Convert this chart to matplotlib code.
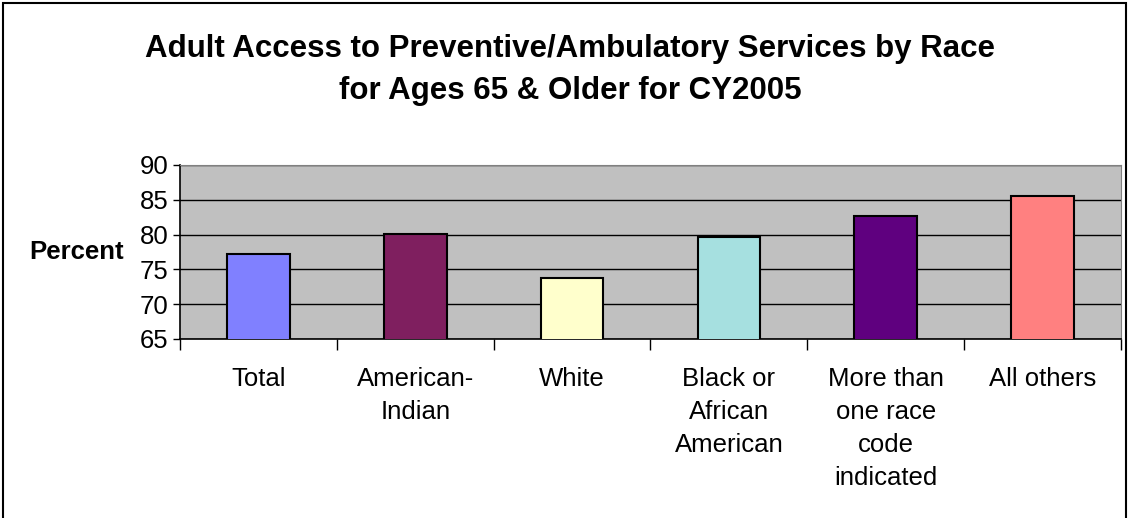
import matplotlib.pyplot as plt
from matplotlib.patches import Rectangle
import numpy as np

plt.rcParams['font.family'] = ['Liberation Sans', 'DejaVu Sans']

categories = ['Total', 'American-\nIndian', 'White', 'Black or\nAfrican\nAmerican',
              'More than\none race\ncode\nindicated', 'All others']
values = [77.2, 80.1, 73.8, 79.7, 82.6, 85.5]
colors = ['#8080FF', '#7F1F5F', '#FFFFCC', '#A6E0E0', '#5F007F', '#FF8080']
yticks = [65, 70, 75, 80, 85, 90]

fig = plt.figure(figsize=(11.29, 5.18), dpi=100)
ax = fig.add_axes([0.1594, 0.3456, 0.8335, 0.3359])

x = np.arange(len(categories))
ax.bar(x, values, width=0.4, bottom=0, color=colors, edgecolor='black',
       linewidth=1.5, zorder=3)
ax.set_facecolor('#C0C0C0')
ax.set_xlim(-0.5, len(categories) - 0.5)
ax.set_ylim(65, 90)
ax.set_yticks(yticks)
ax.yaxis.grid(True, color='black', linewidth=1, zorder=1)
ax.set_axisbelow(True)

# ticks sit on category boundaries, labels in the middle
ax.set_xticks(np.arange(len(categories) + 1) - 0.5)
ax.set_xticklabels([])
ax.tick_params(axis='x', direction='out', length=8, width=1, color='black')
ax.tick_params(axis='y', direction='out', length=5, width=1, labelsize=18.5, pad=3)
for xi, lab in zip(x, categories):
    ax.text(xi, -0.16, lab, transform=ax.get_xaxis_transform(), ha='center', va='top',
            fontsize=18.5, linespacing=1.47)

for side in ['top', 'right']:
    ax.spines[side].set_color('#808080')
for side in ['left', 'bottom']:
    ax.spines[side].set_color('black')
    ax.spines[side].set_linewidth(1.2)

fig.text(0.068, 0.5135, 'Percent', fontsize=18.5, fontweight='bold', ha='center', va='center')
fig.text(0.505, 0.905, 'Adult Access to Preventive/Ambulatory Services by Race',
         fontsize=22.5, fontweight='bold', ha='center', va='center')
fig.text(0.505, 0.825, 'for Ages 65 & Older for CY2005',
         fontsize=22.5, fontweight='bold', ha='center', va='center')

# outer chart border (bottom edge cut off in the original)
fig.patches.append(Rectangle((0.003, -0.05), 0.994, 1.044, transform=fig.transFigure,
                             fill=False, edgecolor='black', linewidth=1.5))

fig.savefig('out.png', dpi=100)
